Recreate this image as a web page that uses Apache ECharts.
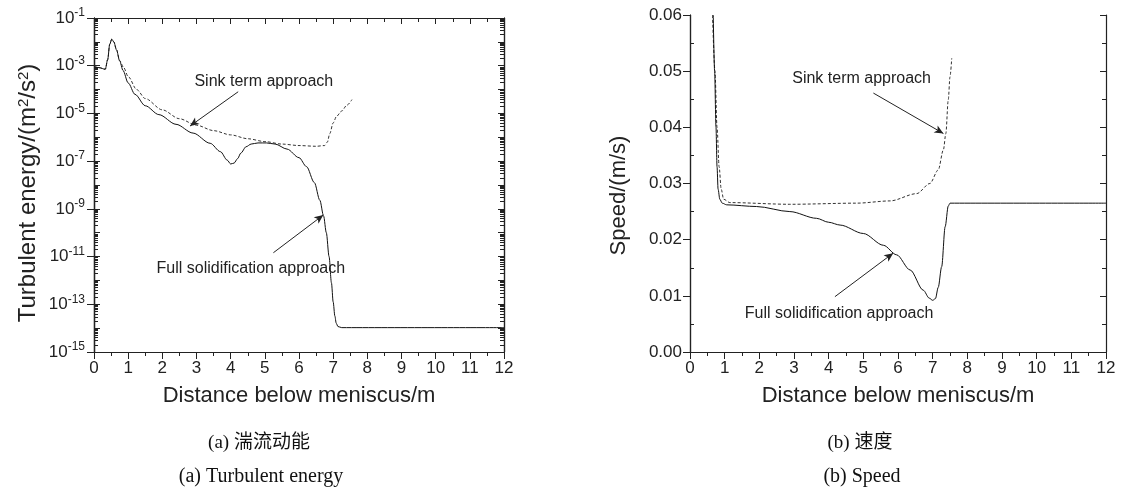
<!DOCTYPE html>
<html><head><meta charset="utf-8">
<script src="https://cdn.jsdelivr.net/npm/echarts@6/dist/echarts.min.js"></script>
<style>html,body{margin:0;padding:0;background:#fff}#c{width:1121px;height:491px}</style>
</head><body><div id="c"></div>
<script>
// ---- (a) Turbulent energy, m^2/s^2 ----
const distKFull = [0, 0.15, 0.33, 0.4, 0.46, 0.52, 0.58, 0.66, 0.75, 0.85, 1.0, 1.2, 1.5, 1.9, 2.4, 2.9, 3.4, 3.7, 3.9, 4.0, 4.1, 4.2, 4.3, 4.45, 4.6, 4.8, 5.05, 5.3, 5.65, 6.0, 6.22, 6.45, 6.61, 6.72, 6.8, 6.88, 6.95, 7.0, 7.05, 7.09, 7.14, 7.25, 12];
const kFull     = [9.1e-4, 8.3e-4, 7.1e-4, 1.8e-3, 7.9e-3, 1.3e-2, 1.0e-2, 4.6e-3, 1.6e-3, 6.3e-4, 1.9e-4, 6.3e-5, 2.1e-5, 8.9e-6, 3.5e-6, 1.5e-6, 5.6e-7, 2.5e-7, 1.1e-7, 7.6e-8, 8.3e-8, 1.26e-7, 2.2e-7, 4.0e-7, 5.2e-7, 5.8e-7, 5.8e-7, 5.2e-7, 3.2e-7, 1.4e-7, 5.9e-8, 1.26e-8, 2.3e-9, 5.0e-10, 1.0e-10, 1.0e-11, 7.9e-13, 1.26e-13, 3.2e-14, 1.6e-14, 1.17e-14, 1.05e-14, 1.05e-14];
const distKSink = [0, 0.15, 0.33, 0.4, 0.46, 0.52, 0.58, 0.66, 0.75, 0.87, 1.0, 1.25, 1.5, 2.0, 2.5, 3.0, 3.5, 4.0, 4.5, 5.0, 5.5, 6.0, 6.5, 6.75, 6.83, 6.9, 7.0, 7.1, 7.25, 7.4, 7.55];
const kSink     = [9.1e-4, 8.3e-4, 7.1e-4, 1.8e-3, 7.9e-3, 1.3e-2, 1.0e-2, 4.6e-3, 1.66e-3, 8.3e-4, 3.5e-4, 1.0e-4, 4.2e-5, 1.41e-5, 6.0e-6, 3.2e-6, 1.9e-6, 1.26e-6, 8.7e-7, 6.6e-7, 5.2e-7, 4.5e-7, 4.2e-7, 4.5e-7, 6.3e-7, 1.41e-6, 4.0e-6, 7.6e-6, 1.26e-5, 2.2e-5, 3.8e-5];

// ---- (b) Speed, m/s ----
const distVFull = [0.67, 0.71, 0.75, 0.78, 0.81, 0.86, 0.93, 1.06, 1.92, 2.88, 3.65, 4.0, 4.33, 5.0, 5.58, 5.96, 6.35, 6.73, 6.9, 7.0, 7.08, 7.16, 7.26, 7.36, 7.45, 7.5, 12];
const vFull     = [0.06, 0.05, 0.04, 0.033, 0.029, 0.0272, 0.0265, 0.0262, 0.0259, 0.025, 0.0238, 0.0231, 0.0226, 0.0211, 0.019, 0.0173, 0.0146, 0.011, 0.0096, 0.0092, 0.0095, 0.0115, 0.0152, 0.0223, 0.026, 0.0265, 0.0265];
const distVSink = [0.65, 0.72, 0.78, 0.84, 0.9, 0.97, 1.15, 2.88, 4.81, 5.77, 6.54, 6.92, 7.16, 7.31, 7.38, 7.45, 7.5, 7.55];
const vSink     = [0.06, 0.05, 0.04, 0.033, 0.029, 0.0272, 0.0266, 0.0263, 0.0265, 0.0269, 0.0282, 0.030, 0.0324, 0.036, 0.0389, 0.0449, 0.049, 0.0523];

// ---- ticks ----
const kLabelTicks = [1e-15, 1e-13, 1e-11, 1e-9, 1e-7, 1e-5, 1e-3, 1e-1];
const kDecadeTicks = [1e-15, 1e-14, 1e-13, 1e-12, 1e-11, 1e-10, 1e-9, 1e-8, 1e-7, 1e-6, 1e-5, 1e-4, 1e-3, 1e-2, 1e-1];
const kMinorTicks = [];
for (let e = -15; e < -1; e++) { for (let m = 2; m <= 9; m++) kMinorTicks.push(m * Math.pow(10, e)); }

const FONT = '"Liberation Sans", Arial, sans-serif';
const SERIF = '"Liberation Serif", "Noto Sans CJK SC", serif';
const INK = '#222';
const line = { lineStyle: { color: INK, width: 1.2 } };
const zip = (xs, ys) => xs.map((x, i) => [x, ys[i]]);

function xAxes(grid) {
  return [
    { gridIndex: grid, type: 'value', position: 'bottom', min: 0, max: 12, interval: 1,
      axisLine: line, axisTick: { length: 7, lineStyle: { color: INK } },
      minorTick: { show: true, splitNumber: 2, length: 4, lineStyle: { color: INK } },
      axisLabel: { fontSize: 17, color: INK, margin: 8, fontFamily: FONT },
      splitLine: { show: false },
      name: 'Distance below meniscus/m', nameLocation: 'middle', nameGap: 33,
      nameTextStyle: { fontSize: 22, color: INK, fontFamily: FONT } },
    { gridIndex: grid, type: 'value', position: 'top', min: 0, max: 12, interval: 1,
      axisLine: line, axisTick: { inside: true, length: 6, lineStyle: { color: INK } },
      minorTick: { show: true, splitNumber: 2, length: 4, lineStyle: { color: INK } },
      axisLabel: { show: false }, splitLine: { show: false } }
  ];
}

const logBase = { type: 'log', logBase: 10, min: 1e-15, max: 1e-1, splitLine: { show: false }, axisLine: line };

function note(name, coord) {
  return { silent: true, symbol: 'rect', symbolSize: 1, itemStyle: { color: 'rgba(0,0,0,0)' },
    label: { show: true, position: 'inside', fontSize: 16, color: INK, fontFamily: FONT, formatter: p => p.name },
    data: [{ name: name, coord: coord }] };
}
function arrow(from, to) {
  return { silent: true, symbol: ['none', 'arrow'], symbolSize: [6, 9], animation: false,
    lineStyle: { color: '#222', width: 1, type: 'solid' }, label: { show: false },
    data: [[{ coord: from }, { coord: to }]] };
}

const option = {
  animation: false,
  textStyle: { fontFamily: FONT },
  grid: [
    { left: 94, top: 18, width: 410, height: 334 },
    { left: 690, top: 15, width: 416, height: 337 }
  ],
  xAxis: [...xAxes(0), ...xAxes(1)],
  yAxis: [
    Object.assign({}, logBase, { gridIndex: 0, position: 'left',
      axisTick: { customValues: kLabelTicks, length: 7, lineStyle: { color: INK } },
      axisLabel: { customValues: kLabelTicks, margin: 9, color: INK,
        formatter: v => '{b|10}{s|' + Math.round(Math.log10(v)) + '}',
        rich: { b: { fontSize: 17, lineHeight: 22, color: INK, fontFamily: FONT },
                s: { fontSize: 12, lineHeight: 10, verticalAlign: 'top', color: INK, fontFamily: FONT } } },
      name: 'Turbulent energy/(m{s|2}/s{s|2})', nameLocation: 'middle', nameGap: 54,
      nameTextStyle: { fontSize: 24, color: INK, fontFamily: FONT, padding: [0, 16, 0, 0],
        rich: { s: { fontSize: 15, lineHeight: 12, verticalAlign: 'top', color: INK, fontFamily: FONT } } } }),
    Object.assign({}, logBase, { gridIndex: 0, position: 'left',
      axisTick: { inside: true, customValues: kDecadeTicks, length: 6, lineStyle: { color: INK } },
      axisLabel: { show: false } }),
    Object.assign({}, logBase, { gridIndex: 0, position: 'left',
      axisTick: { inside: true, customValues: kMinorTicks, length: 4, lineStyle: { color: INK } },
      axisLabel: { show: false } }),
    Object.assign({}, logBase, { gridIndex: 0, position: 'right',
      axisTick: { inside: true, customValues: kDecadeTicks, length: 6, lineStyle: { color: INK } },
      axisLabel: { show: false } }),
    Object.assign({}, logBase, { gridIndex: 0, position: 'right',
      axisTick: { inside: true, customValues: kMinorTicks, length: 4, lineStyle: { color: INK } },
      axisLabel: { show: false } }),
    { gridIndex: 1, type: 'value', position: 'left', min: 0, max: 0.06, interval: 0.01,
      axisLine: line, axisTick: { length: 7, lineStyle: { color: INK } },
      axisLabel: { fontSize: 17, color: INK, margin: 8, formatter: v => v.toFixed(2) },
      splitLine: { show: false },
      name: 'Speed/(m/s)', nameLocation: 'middle', nameGap: 60,
      nameTextStyle: { fontSize: 22, color: INK, fontFamily: FONT, padding: [0, 24, 0, 0] } },
    { gridIndex: 1, type: 'value', position: 'left', min: 0, max: 0.06, interval: 0.01,
      axisLine: line, axisTick: { show: false, inside: true },
      minorTick: { show: true, splitNumber: 2, length: 4, lineStyle: { color: INK } },
      axisLabel: { show: false }, splitLine: { show: false } },
    { gridIndex: 1, type: 'value', position: 'right', min: 0, max: 0.06, interval: 0.01,
      axisLine: line, axisTick: { inside: true, length: 6, lineStyle: { color: INK } },
      minorTick: { show: true, splitNumber: 2, length: 4, lineStyle: { color: INK } },
      axisLabel: { show: false }, splitLine: { show: false } }
  ],
  series: [
    { type: 'line', xAxisIndex: 0, yAxisIndex: 0, data: zip(distKFull, kFull), showSymbol: false,
      smooth: 0.3, smoothMonotone: 'x', lineStyle: { color: '#111', width: 1 }, z: 3,
      markLine: arrow([5.25, 1.45e-11], [6.71, 5.5e-10]),
      markPoint: note('Full solidification approach', [4.59, 3e-12]) },
    { type: 'line', xAxisIndex: 0, yAxisIndex: 0, data: zip(distKSink, kSink), showSymbol: false,
      smooth: 0.3, smoothMonotone: 'x', lineStyle: { color: '#333', width: 1, type: [3, 2] }, z: 2,
      markLine: arrow([4.22, 8.1e-5], [2.81, 2.95e-6]),
      markPoint: note('Sink term approach', [4.97, 2.1e-4]) },
    { type: 'line', xAxisIndex: 2, yAxisIndex: 5, data: zip(distVFull, vFull), showSymbol: false,
      smooth: 0.3, smoothMonotone: 'x', lineStyle: { color: '#111', width: 1 }, z: 3,
      markLine: arrow([4.18, 0.00985], [5.86, 0.0176]),
      markPoint: note('Full solidification approach', [4.30, 0.00677]) },
    { type: 'line', xAxisIndex: 2, yAxisIndex: 5, data: zip(distVSink, vSink), showSymbol: false,
      smooth: 0.3, smoothMonotone: 'x', lineStyle: { color: '#333', width: 1, type: [3, 2] }, z: 2,
      markLine: arrow([5.29, 0.0461], [7.31, 0.0389]),
      markPoint: note('Sink term approach', [4.95, 0.0486]) }
  ],
  graphic: [
    { type: 'text', style: { text: '(a) 湍流动能', x: 259, y: 443, fontSize: 19, fill: '#111',
        fontFamily: SERIF, align: 'center', verticalAlign: 'middle' } },
    { type: 'text', style: { text: '(a) Turbulent energy', x: 261, y: 477, fontSize: 20, fill: '#111',
        fontFamily: SERIF, align: 'center', verticalAlign: 'middle' } },
    { type: 'text', style: { text: '(b) 速度', x: 860, y: 443, fontSize: 19, fill: '#111',
        fontFamily: SERIF, align: 'center', verticalAlign: 'middle' } },
    { type: 'text', style: { text: '(b) Speed', x: 862, y: 477, fontSize: 20, fill: '#111',
        fontFamily: SERIF, align: 'center', verticalAlign: 'middle' } }
  ]
};
const chart = echarts.init(document.getElementById('c'), null, { renderer: 'canvas' });
chart.setOption(option);
</script></body></html>
